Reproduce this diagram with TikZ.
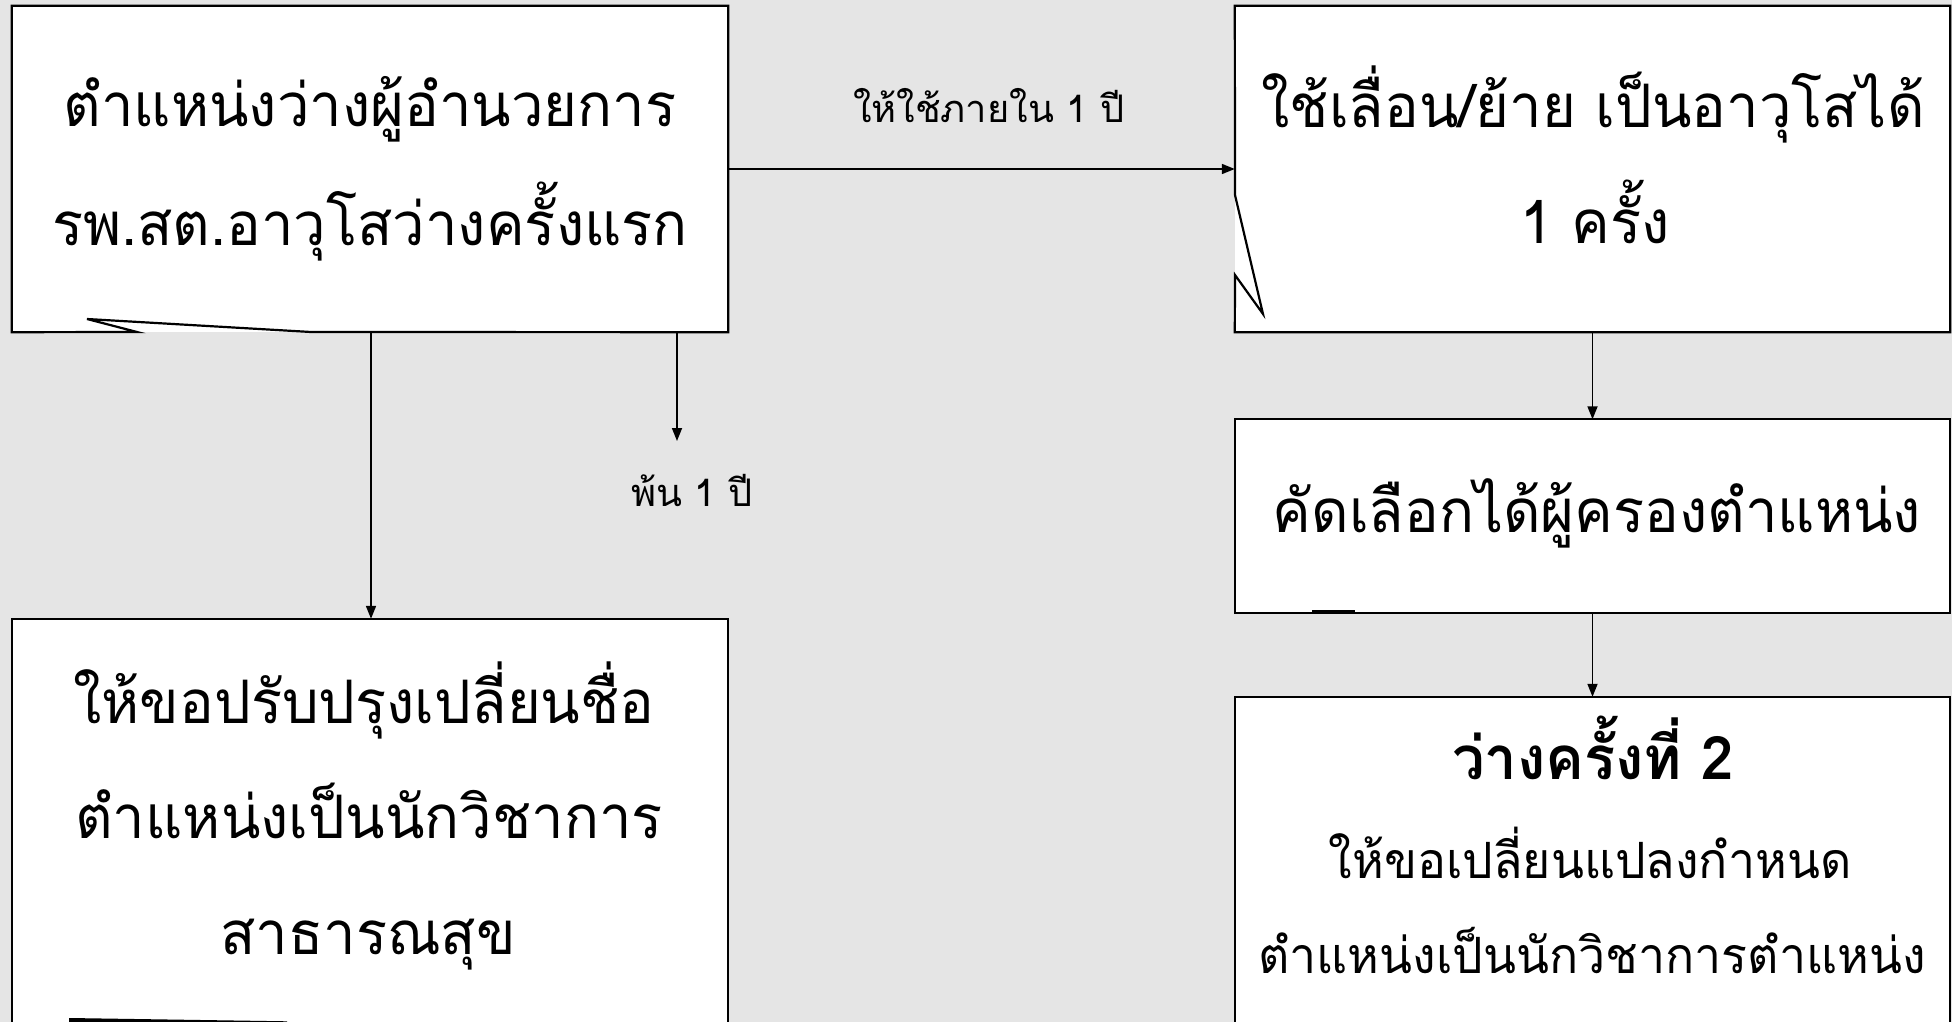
\documentclass[tikz,border=0pt]{standalone}
\usepackage{fontspec}
\setmainfont[Script=Thai]{Loma}
\newfontfamily\narrowthai[Script=Thai, FakeStretch=0.965]{Loma}
\usetikzlibrary{arrows.meta}
\tikzset{
  boxshape/.style={fill=white, draw=none, inner sep=0pt},
  outline/.style={line width=2.2pt, line join=miter},
  conn/.style={line width=1.7pt, -{Triangle[length=13pt,width=10pt]}},
  bigtxt/.style={anchor=base, inner sep=0pt, font=\narrowthai\fontsize{60}{60}\selectfont},
  midtxt/.style={anchor=base, inner sep=0pt, font=\narrowthai\fontsize{50}{50}\selectfont},
  lbltxt/.style={anchor=base, inner sep=0pt, font=\fontsize{38}{38}\selectfont},
}
\begin{document}
\begin{tikzpicture}[x=1pt,y=-1pt]
\useasboundingbox (0,0) rectangle (1952,1022);
\clip (0,0) rectangle (1952,1022);
\fill[black!10] (0,0) rectangle (1952,1022);

% boxes
\node[boxshape, minimum width=716pt, minimum height=326pt] (b1) at (370,169) {};
\node[boxshape, minimum width=715pt, minimum height=326pt] (b2) at (1592.5,169) {};
\node[boxshape, minimum width=715pt, minimum height=193pt] (b3) at (1592.5,516) {};
\node[boxshape, minimum width=715pt, minimum height=360pt] (b4) at (1592.5,877) {};
\node[boxshape, minimum width=716pt, minimum height=440pt] (b5) at (370,839) {};

% outlines with callout tails
\draw[outline] (b1.south west) -- (b1.north west) -- (b1.north east) -- (b1.south east) -- (311,332) -- (87,319) -- (137,332) -- cycle;
\draw[outline] (b2.north west) -- (b2.north east) -- (b2.south east) -- (b2.south west) -- (1235,275) -- (1263,314) -- (1235,195) -- cycle;
\draw[outline] (b3.north west) rectangle (b3.south east);
\draw[line width=3.5pt] (1312,612) -- (1355,612);
\draw[outline] (b4.south west) -- (b4.north west) -- (b4.north east) -- (b4.south east);
\draw[outline] (b5.south west) -- (b5.north west) -- (b5.north east) -- (b5.south east);
\fill (69,1018) -- (287,1021.3) -- (287,1023) -- (69,1023) -- cycle;

% texts
\node[bigtxt] (t1a) at (370,127) {ตำแหน่งว่างผู้อำนวยการ};
\node[bigtxt] (t1b) at (370,245) {รพ.สต.อาวุโสว่างครั้งแรก};
\node[bigtxt] (t2a) at (1593,128) {ใช้เลื่อน/ย้าย เป็นอาวุโสได้};
\node[bigtxt] (t2b) at (1595,243) {1 ครั้ง};
\node[bigtxt] (t3) at (1597,532) {คัดเลือกได้ผู้ครองตำแหน่ง};
\node[bigtxt, font=\narrowthai\fontsize{60}{60}\selectfont\bfseries] (t4a) at (1593,779) {ว่างครั้งที่ 2};
\node[midtxt] (t4b) at (1590,878) {ให้ขอเปลี่ยนแปลงกำหนด};
\node[midtxt] (t4c) at (1592,973) {ตำแหน่งเป็นนักวิชาการตำแหน่ง};
\node[bigtxt] (t5a) at (364,723) {ให้ขอปรับปรุงเปลี่ยนชื่อ};
\node[bigtxt] (t5b) at (369,838) {ตำแหน่งเป็นนักวิชาการ};
\node[bigtxt] (t5c) at (368,954) {สาธารณสุข};
\node[lbltxt] (l1) at (989,123) {ให้ใช้ภายใน 1 ปี};
\node[lbltxt] (l2) at (692,506) {พ้น 1 ปี};

% connectors
\coordinate (e2) at (677,441);
\draw[conn] (b1.east) -- (b2.west);
\draw[conn] (b1.south -| 371,0) -- (b5.north -| 371,0);
\draw[conn] (b1.south -| e2) -- (e2);
\draw[conn] (b2.south) -- (b3.north);
\draw[conn] (b3.south) -- (b4.north);
\end{tikzpicture}
\end{document}
